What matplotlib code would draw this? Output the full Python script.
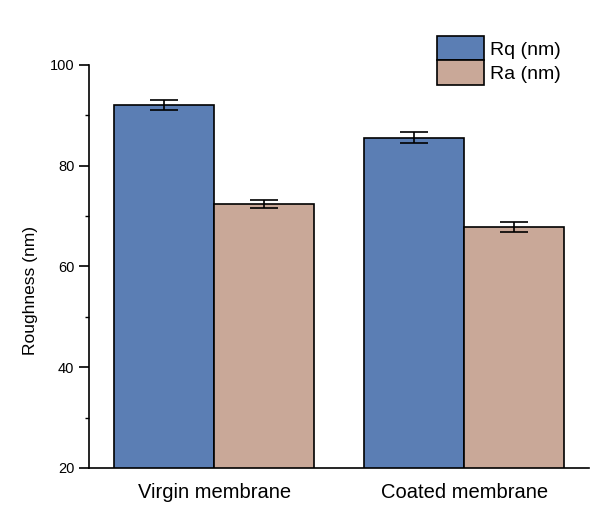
import numpy as np
import matplotlib
matplotlib.use("Agg")
from matplotlib import pyplot as plt
from matplotlib.ticker import MultipleLocator

plt.rcParams['font.family'] = ['Liberation Sans', 'DejaVu Sans']

# data
groups = ['Virgin membrane', 'Coated membrane']
rq = [92.1, 85.6]
rq_err = [1.0, 1.1]
ra = [72.4, 67.8]
ra_err = [0.8, 1.0]

blue = '#5B7EB4'
tan = '#C9A898'

fig = plt.figure(figsize=(6.03, 5.15), dpi=100)
ax = fig.add_axes([0.1476, 0.0913, 0.83, 0.7825])

x = np.arange(len(groups))
w = 0.4
ax.bar(x - w / 2, rq, w, color=blue, edgecolor='black', linewidth=1.2,
       label='Rq (nm)', zorder=2)
ax.bar(x + w / 2, ra, w, color=tan, edgecolor='black', linewidth=1.2,
       label='Ra (nm)', zorder=2)
ax.errorbar(x - w / 2, rq, yerr=rq_err, fmt='none', ecolor='black',
            elinewidth=1.2, capsize=10, capthick=1.2, zorder=3)
ax.errorbar(x + w / 2, ra, yerr=ra_err, fmt='none', ecolor='black',
            elinewidth=1.2, capsize=10, capthick=1.2, zorder=3)

ax.set_xlim(-0.5, 1.5)
ax.set_ylim(20, 100)
ax.yaxis.set_major_locator(MultipleLocator(20))
ax.yaxis.set_minor_locator(MultipleLocator(10))
ax.set_xticks(x)
ax.set_xticklabels(groups, fontsize=14.5)
ax.tick_params(axis='x', length=0, pad=11)
ax.tick_params(axis='y', which='major', length=7, width=1.2, labelsize=10.5)
ax.tick_params(axis='y', which='minor', length=3, width=1.0)
ax.set_ylabel('Roughness (nm)', fontsize=12.5)
ax.yaxis.set_label_coords(-0.102, 0.44)

for s in ['top', 'right']:
    ax.spines[s].set_visible(False)
for s in ['left', 'bottom']:
    ax.spines[s].set_linewidth(1.2)

leg = ax.legend(loc='upper left', bbox_to_anchor=(437 / 603, 1 - 36 / 515),
                bbox_transform=fig.transFigure, frameon=False, fontsize=14,
                handlelength=2.4, handleheight=1.55, labelspacing=0,
                handletextpad=0.3, borderpad=0, borderaxespad=0)
for p in leg.get_patches():
    p.set_linewidth(1.2)

fig.savefig('out.png', dpi=100)
